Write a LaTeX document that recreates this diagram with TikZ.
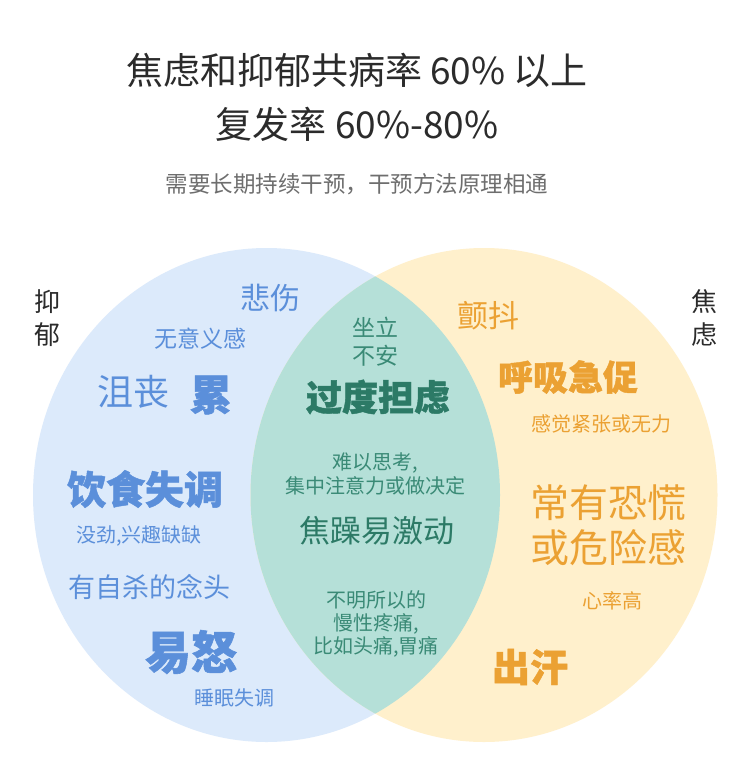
\documentclass[tikz,border=0pt]{standalone}
\usepackage{fontspec}
\setmainfont{Noto Sans CJK SC}
\definecolor{bluefill}{HTML}{DCEAFB}
\definecolor{yellowfill}{HTML}{FFF0CC}
\definecolor{greenfill}{HTML}{B5E0D8}
\definecolor{bluetxt}{HTML}{5B8FDA}
\definecolor{greentxt}{HTML}{3A8A76}
\definecolor{greendark}{HTML}{2C7A66}
\definecolor{orangetxt}{HTML}{EBA133}
\definecolor{titletxt}{HTML}{2B2B2B}
\definecolor{subtxt}{HTML}{6E6E6E}
\newcommand{\fs}[1]{\fontsize{#1}{#1}\selectfont}
\newcommand{\heavy}{\bfseries\addfontfeatures{FakeBold=1.2}}
\tikzset{
  lbl/.style={inner sep=0pt, align=center},
  bl/.style={lbl, text=bluetxt},
  gr/.style={lbl, text=greentxt},
  grd/.style={lbl, text=greendark},
  og/.style={lbl, text=orangetxt},
}
\begin{document}
\begin{tikzpicture}[x=1pt,y=-1pt]
\useasboundingbox (0,0) rectangle (751,776);
\fill[white] (0,0) rectangle (751,776);
% circles
\fill[bluefill] (266.5,495) ellipse [x radius=233.5, y radius=247];
\fill[yellowfill] (484,495) ellipse [x radius=233.5, y radius=247];
\begin{scope}
\clip (266.5,495) ellipse [x radius=233.5, y radius=247];
\fill[greenfill] (484,495) ellipse [x radius=233.5, y radius=247];
\end{scope}
% title
\node[lbl, text=titletxt, font=\fs{37}] (t1) at (357,70) {焦虑和抑郁共病率 60\% 以上};
\node[lbl, text=titletxt, font=\fs{37}] (t2) at (357,124) {复发率 60\%-80\%};
\node[lbl, text=subtxt, font=\fs{22.5}] (t3) at (357,184) {需要长期持续干预，干预方法原理相通};
% side labels
\node[lbl, text=titletxt, font=\fs{26}] (yi) at (47,302) {抑};
\node[lbl, text=titletxt, font=\fs{26}] (yu) at (47,335) {郁};
\node[lbl, text=titletxt, font=\fs{26}] (jiao) at (704,302) {焦};
\node[lbl, text=titletxt, font=\fs{26}] (lv) at (704,335) {虑};
% left (blue)
\node[bl, font=\fs{30}] (beishang) at (270,298) {悲伤};
\node[bl, font=\fs{23}] (wuyiyi) at (200,339) {无意义感};
\node[bl, font=\fs{36}] (jusang) at (133,392) {沮丧};
\node[bl, font=\fs{42}\heavy] (lei) at (211,395) {累};
\node[bl, font=\fs{39}\heavy] (yinshi) at (145,489) {饮食失调};
\node[bl, font=\fs{20}] (mojin) at (139,536) {没劲,兴趣缺缺};
\node[bl, font=\fs{27}] (zisha) at (149,587) {有自杀的念头};
\node[bl, font=\fs{46}\heavy] (yinu) at (191,652) {易怒};
\node[bl, font=\fs{20}] (shuimian) at (234,698) {睡眠失调};
% middle (green)
\node[gr, font=\fs{23}] (zuoli) at (375,327) {坐立};
\node[gr, font=\fs{23}] (buan) at (375,356) {不安};
\node[grd, font=\fs{36}\heavy] (guodu) at (378,397) {过度担虑};
\node[gr, font=\fs{20}] (nanyi) at (375,463) {难以思考,};
\node[gr, font=\fs{20}] (jizhong) at (375,486) {集中注意力或做决定};
\node[grd, font=\fs{31}] (jiaozao) at (377,531) {焦躁易激动};
\node[gr, font=\fs{20}] (buming) at (376,600) {不明所以的};
\node[gr, font=\fs{20}] (manxing) at (376,624) {慢性疼痛,};
\node[gr, font=\fs{20}] (biru) at (376,647) {比如头痛,胃痛};
% right (orange)
\node[og, font=\fs{31}] (chandou) at (488,316) {颤抖};
\node[og, font=\fs{35}\heavy] (huxi) at (568,377) {呼吸急促};
\node[og, font=\fs{20}] (ganjue) at (601,424) {感觉紧张或无力};
\node[og, font=\fs{39}] (changyou) at (608,503) {常有恐慌};
\node[og, font=\fs{39}] (huowei) at (608,548) {或危险感};
\node[og, font=\fs{20}] (xinlv) at (612,601) {心率高};
\node[og, font=\fs{38}\heavy] (chuhan) at (530,667) {出汗};
\end{tikzpicture}
\end{document}
